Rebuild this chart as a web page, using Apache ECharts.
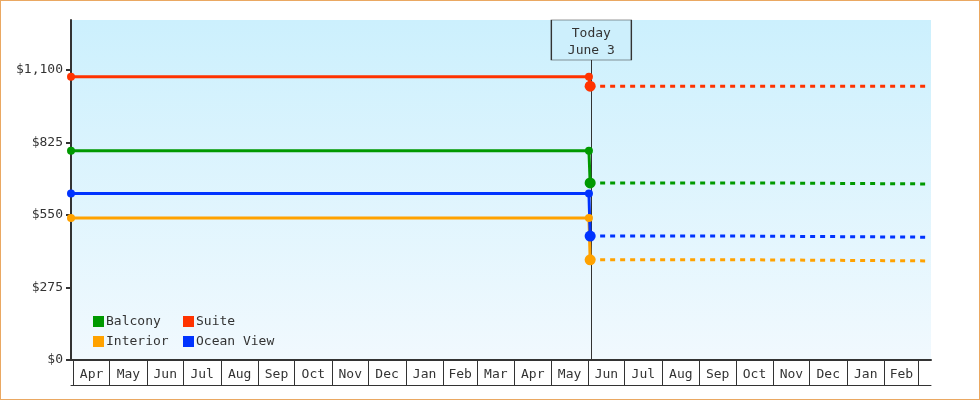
<!DOCTYPE html>
<html>
<head>
<meta charset="utf-8">
<script src="https://cdn.jsdelivr.net/npm/echarts@6/dist/echarts.min.js"></script>
<style>
  html, body { margin: 0; padding: 0; background: #fff; }
  #chart { width: 980px; height: 400px; position: absolute; left: 0; top: 0; }
  #frame { position: absolute; left: 0; top: 0; width: 978px; height: 398px; border: 1px solid #eaa862; pointer-events: none; }
</style>
</head>
<body>
<div id="chart"></div>
<div id="frame"></div>
<script>
// ---- data ----
const monthLabels = ['Apr','May','Jun','Jul','Aug','Sep','Oct','Nov','Dec','Jan','Feb','Mar',
                     'Apr','May','Jun','Jul','Aug','Sep','Oct','Nov','Dec','Jan','Feb'];
const yTicks = [0, 275, 550, 825, 1100];
const yMax = 1290;
const axisStart = '2024-03-30';
const axisEnd = '2026-03-11 12:00';
const todayDate = '2025-06-03 12:00';
const todayLabel = 'Today\nJune 3';

const histDates = ['2024-03-30', '2025-06-01 12:00', '2025-06-02 12:00'];
const interiorHist = [539, 539, 380];
const oceanHist    = [632, 632, 470];
const balconyHist  = [794, 794, 672];
const suiteHist    = [1075, 1075, 1039];

const futureDates = ['2025-06-02 12:00', '2025-10-19', '2025-10-19', '2026-03-07'];
const interiorFuture = [380, 380, 376, 376];
const oceanFuture    = [470, 470, 466, 466];
const balconyFuture  = [672, 672, 668, 668];
const suiteFuture    = [1039, 1039, 1039, 1039];

// ---- helpers ----
function ts(s) {
  const m = s.match(/^(\d+)-(\d+)-(\d+)(?:\s+(\d+):(\d+))?$/);
  return new Date(+m[1], +m[2] - 1, +m[3], m[4] ? +m[4] : 0, m[5] ? +m[5] : 0).getTime();
}
function pts(dates, vals) { return dates.map((d, i) => [ts(d), vals[i]]); }

const monthStarts = [];
for (let i = 0; i <= monthLabels.length; i++) monthStarts.push(new Date(2024, 3 + i, 1).getTime());
const monthMids = monthLabels.map((_, i) => (monthStarts[i] + monthStarts[i + 1]) / 2);

const font = 'DejaVu Sans Mono';
const txt = '#333';

const rooms = [
  { name: 'Interior',   color: '#ffa200', hist: interiorHist, fut: interiorFuture },
  { name: 'Ocean View', color: '#0033ff', hist: oceanHist,    fut: oceanFuture },
  { name: 'Balcony',    color: '#009900', hist: balconyHist,  fut: balconyFuture },
  { name: 'Suite',      color: '#ff3300', hist: suiteHist,    fut: suiteFuture }
];

const series = [];
rooms.forEach(r => {
  series.push({
    name: r.name, type: 'line', xAxisIndex: 0, z: 2,
    data: pts(futureDates, r.fut), symbol: 'none',
    lineStyle: { color: r.color, width: 3, type: [5, 5] },
    itemStyle: { color: r.color }
  });
});
rooms.forEach(r => {
  series.push({
    name: r.name, type: 'line', xAxisIndex: 0, z: 3,
    data: pts(histDates, r.hist), symbol: 'circle',
    symbolSize: (v, p) => p.dataIndex === histDates.length - 1 ? 11 : 8,
    showAllSymbol: true,
    lineStyle: { color: r.color, width: 3 },
    itemStyle: { color: r.color }
  });
});
// today marker
series.push({
  type: 'line', xAxisIndex: 0, data: [], silent: true,
  markLine: {
    z: 1, silent: true, symbol: ['none', 'none'],
    label: { show: false },
    lineStyle: { color: '#333', width: 1, type: 'solid' },
    emphasis: { disabled: true },
    data: [{ xAxis: ts(todayDate) }]
  },
  markPoint: {
    z: 10, silent: true,
    data: [{
      coord: [ts(todayDate), yMax], symbol: 'rect', symbolSize: [80, 40], symbolOffset: [0, 20],
      itemStyle: { color: '#cdeffc', borderColor: '#333', borderWidth: 1 },
      label: { show: true, position: 'inside', formatter: todayLabel, color: txt,
               fontFamily: font, fontSize: 13, lineHeight: 17, offset: [0, 2] }
    }]
  }
});

const legendCommon = {
  orient: 'vertical', top: 310, itemWidth: 11, itemHeight: 11, itemGap: 7, icon: 'rect',
  textStyle: { fontFamily: font, fontSize: 13, color: txt, lineHeight: 13, padding: [0, 0, 0, -3] },
  selectedMode: false
};

const option = {
  animation: false,
  grid: {
    left: 71, right: 49, top: 20, bottom: 40, show: true, borderWidth: 0,
    backgroundColor: { type: 'linear', x: 0, y: 0, x2: 0, y2: 1,
      colorStops: [{ offset: 0, color: '#ccf0fd' }, { offset: 1, color: '#f1f9fe' }] }
  },
  legend: [
    Object.assign({ left: 88, data: ['Balcony', 'Interior'] }, legendCommon),
    Object.assign({ left: 178, data: ['Suite', 'Ocean View'] }, legendCommon)
  ],
  xAxis: [{
    type: 'value', min: ts(axisStart), max: ts(axisEnd), position: 'bottom', scale: true,
    axisLine: { show: true, onZero: false, lineStyle: { color: '#333', width: 2 } },
    axisTick: { show: true, customValues: monthStarts, length: 25, inside: false,
                lineStyle: { color: '#333', width: 1 } },
    axisLabel: { show: true, customValues: monthMids, margin: 8, color: txt,
                 fontFamily: font, fontSize: 13,
                 formatter: v => { const i = monthMids.indexOf(v); return i >= 0 ? monthLabels[i] : ''; } },
    splitLine: { show: false }
  }, {
    type: 'value', min: ts(axisStart), max: ts(axisEnd), position: 'bottom', offset: 25, scale: true,
    axisLine: { show: true, onZero: false, lineStyle: { color: '#333', width: 1 } },
    axisTick: { show: false }, axisLabel: { show: false }, splitLine: { show: false }
  }],
  yAxis: {
    type: 'value', min: 0, max: yMax, interval: 275,
    axisLine: { show: true, lineStyle: { color: '#333', width: 2 } },
    axisTick: { show: true, customValues: yTicks, length: 5, lineStyle: { color: '#333', width: 2 } },
    axisLabel: { customValues: yTicks, margin: 8, color: txt, fontFamily: font, fontSize: 13,
                 formatter: v => '$' + v.toLocaleString('en-US') },
    splitLine: { show: false }
  },
  series: series
};

const chart = echarts.init(document.getElementById('chart'), null, { renderer: 'canvas' });
chart.setOption(option);
</script>
</body>
</html>
